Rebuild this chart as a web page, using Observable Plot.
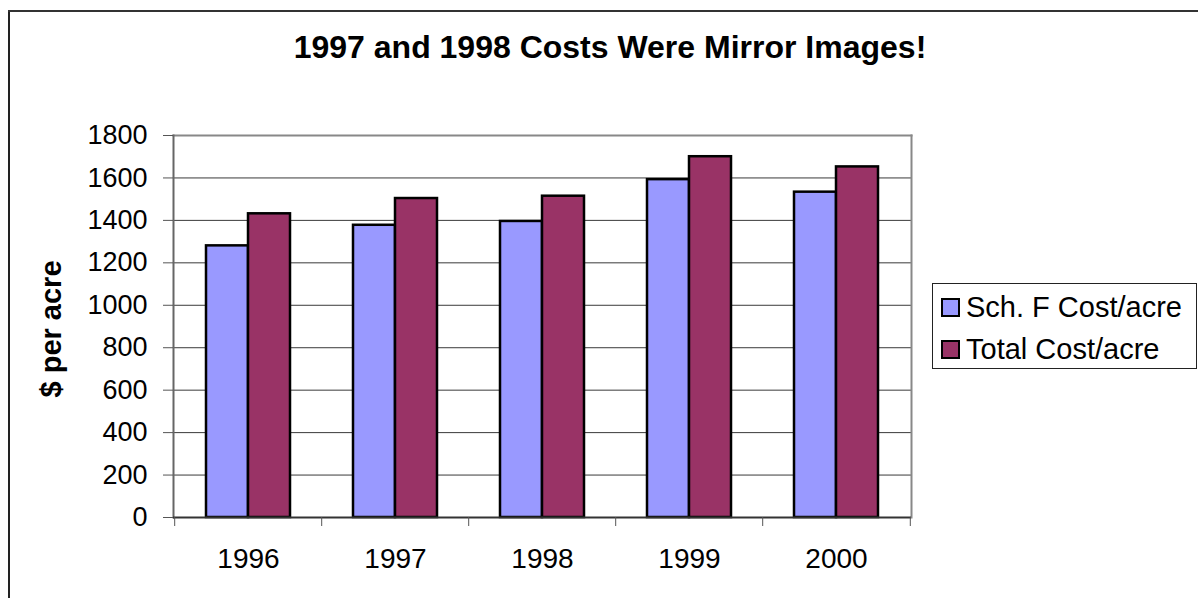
<!DOCTYPE html>
<html>
<head>
<meta charset="utf-8">
<script src="https://cdn.jsdelivr.net/npm/d3@7"></script>
<script src="https://cdn.jsdelivr.net/npm/@observablehq/plot@0.6"></script>
<style>
  html, body { margin: 0; padding: 0; background: #fff; }
  #wrap { position: relative; width: 1198px; height: 598px; overflow: hidden; font-family: "Liberation Sans", Arial, sans-serif; }
  #wrap svg { position: absolute; left: 0; top: 0; }
  .bl { position: absolute; left: 8px; top: 10px; width: 2px; height: 600px; background: #222; }
  .bt { position: absolute; left: 8px; top: 10px; width: 1200px; height: 2px; background: #333; }
  #title { position: absolute; left: 0; width: 1220px; top: 29px; text-align: center; font-weight: bold; font-size: 32px; color: #000; white-space: nowrap; }
  #ylab { position: absolute; left: 51px; top: 329px; transform: translate(-50%, -50%) rotate(-90deg); font-weight: bold; font-size: 29px; white-space: nowrap; color: #000; }
  #legend { position: absolute; left: 932px; top: 283px; width: 265px; height: 86px; border: 1px solid #222; box-sizing: border-box; }
  .item { position: absolute; left: 8px; height: 32px; display: flex; align-items: center; font-size: 29px; white-space: nowrap; color: #000; }
  .sw { width: 19px; height: 19px; border: 2px solid #000; box-sizing: border-box; margin-right: 6px; }
</style>
</head>
<body>
<div id="wrap">
  <div class="bl"></div>
  <div class="bt"></div>
  <div id="title"></div>
  <div id="ylab"></div>
  <div id="legend"></div>
</div>
<script>
const title = "1997 and 1998 Costs Were Mirror Images!";
const yLabel = "$ per acre";
const years = ["1996", "1997", "1998", "1999", "2000"];
const seriesNames = ["Sch. F Cost/acre", "Total Cost/acre"];
const seriesColors = ["#9999FF", "#993366"];
const schF = [1280, 1377, 1395, 1592, 1533];
const total = [1431, 1503, 1514, 1700, 1652];
const yTicks = [0, 200, 400, 600, 800, 1000, 1200, 1400, 1600, 1800];

const W = 1198, H = 598;
const mL = 173, mR = 287, mT = 135, mB = 81;
const step = (W - mL - mR) / years.length;
const barW = 42;
const pInner = 1 - barW / step;

const rowsA = years.map((y, i) => ({year: y, value: schF[i]}));
const rowsB = years.map((y, i) => ({year: y, value: total[i]}));

const chart = Plot.plot({
  width: W, height: H,
  marginLeft: mL, marginRight: mR, marginTop: mT, marginBottom: mB,
  style: {fontFamily: '"Liberation Sans", Arial, sans-serif', fontSize: "27px", background: "transparent", color: "#000"},
  x: {domain: years, paddingInner: pInner, paddingOuter: pInner / 2, align: 0.5, label: null},
  y: {domain: [0, 1800], label: null},
  marks: [
    Plot.ruleY(yTicks.filter(d => d > 0 && d < 1800), {y: d => d, stroke: "#3a3a3a", strokeWidth: 1}),
    Plot.frame({anchor: "top", stroke: "#888", strokeWidth: 2}),
    Plot.frame({anchor: "right", stroke: "#888", strokeWidth: 2}),
    Plot.frame({anchor: "left", stroke: "#666", strokeWidth: 2}),
    Plot.barY(rowsA, {x: "year", y: "value", fill: seriesColors[0], stroke: "#000", strokeWidth: 2.5, dx: -barW / 2}),
    Plot.barY(rowsB, {x: "year", y: "value", fill: seriesColors[1], stroke: "#000", strokeWidth: 2.5, dx: barW / 2}),
    Plot.ruleY([0], {stroke: "#333", strokeWidth: 2}),
    Plot.axisY({ticks: yTicks, tickSize: 10, tickPadding: 16, tickFormat: d => String(d), stroke: "#555", fontSize: 27, label: null}),
    Plot.axisX({ticks: years, tickSize: 0, tickPadding: 31, fontSize: 28, label: null}),
    Plot.axisX({ticks: years, tickSize: 9, tickFormat: () => "", dx: -step / 2, stroke: "#555", label: null}),
    Plot.axisX({ticks: [years[years.length - 1]], tickSize: 9, tickFormat: () => "", dx: step / 2, stroke: "#555", label: null})
  ]
});
document.getElementById("wrap").appendChild(chart);

document.getElementById("title").textContent = title;
document.getElementById("ylab").textContent = yLabel;
const leg = document.getElementById("legend");
seriesNames.forEach((name, i) => {
  const it = document.createElement("div");
  it.className = "item";
  it.style.top = (i === 0 ? 7 : 49) + "px";
  const sw = document.createElement("div");
  sw.className = "sw";
  sw.style.background = seriesColors[i];
  const tx = document.createElement("span");
  tx.textContent = name;
  it.appendChild(sw); it.appendChild(tx);
  leg.appendChild(it);
});
</script>
</body>
</html>
